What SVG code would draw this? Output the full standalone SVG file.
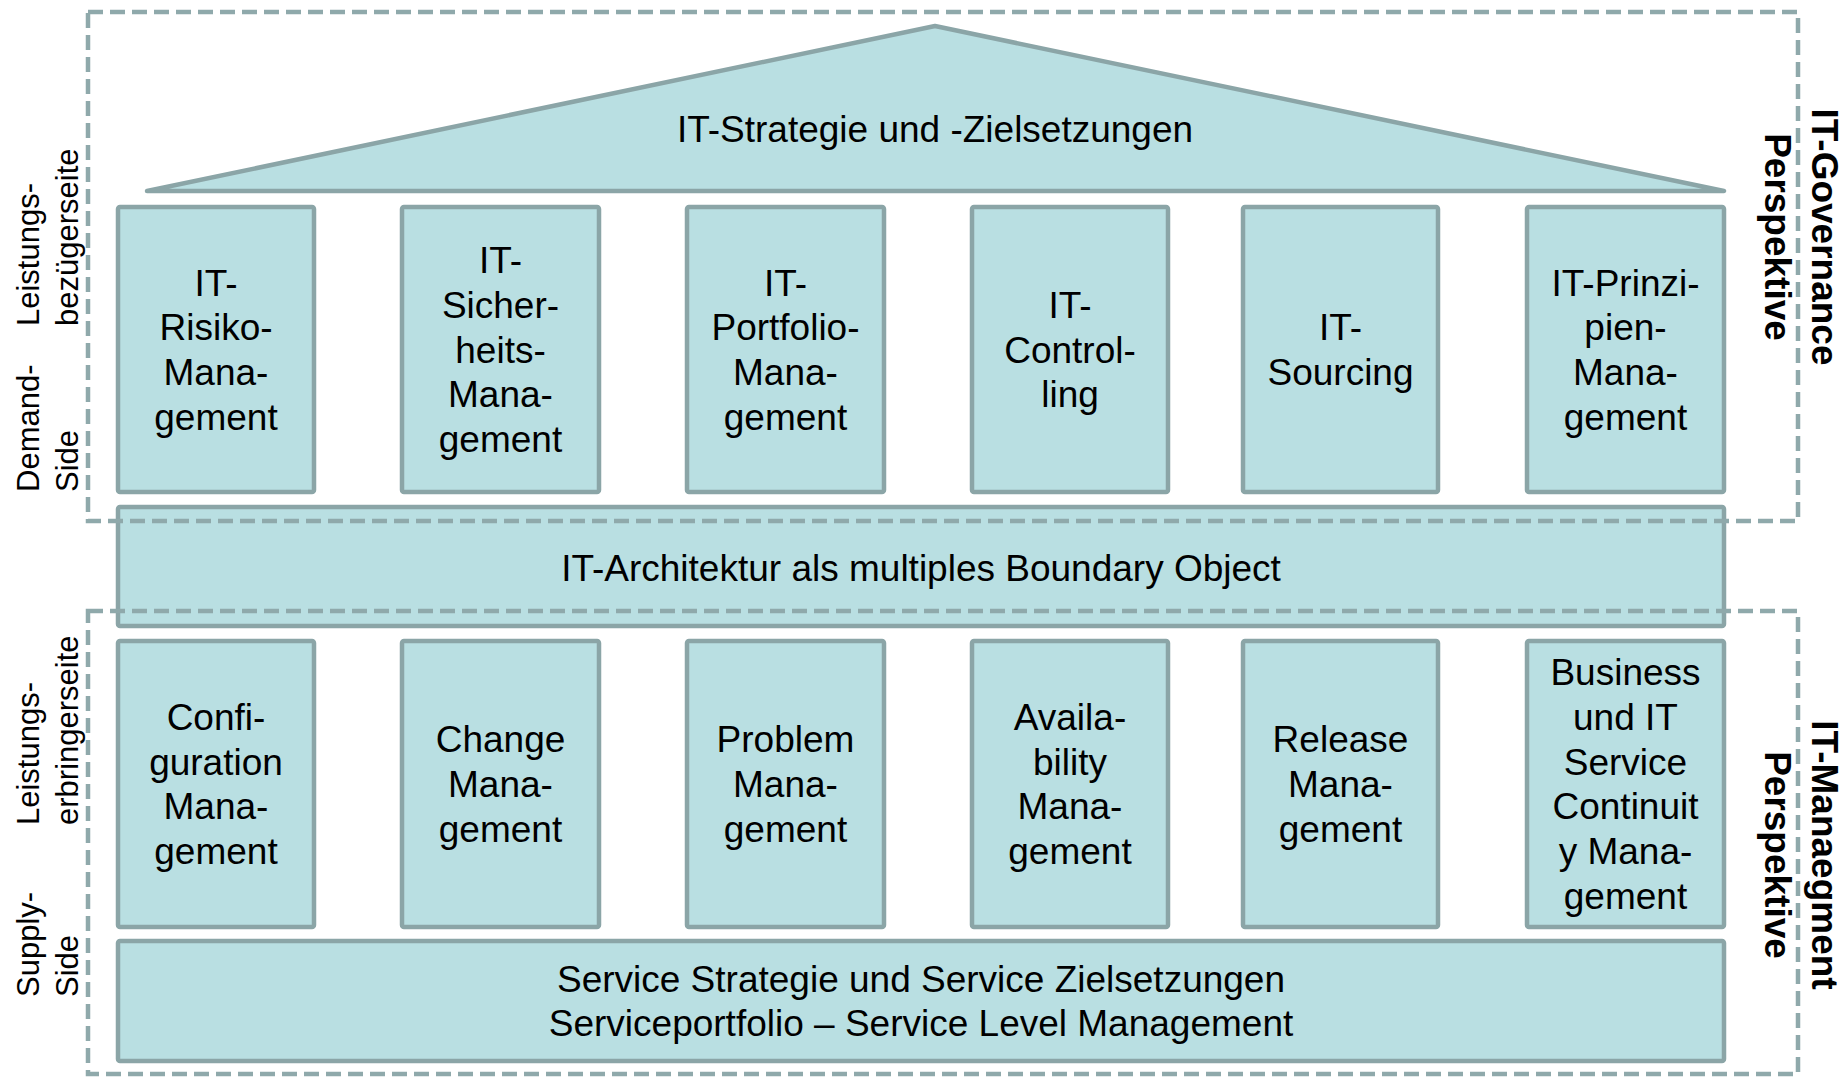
<svg xmlns="http://www.w3.org/2000/svg" width="1845" height="1077" viewBox="0 0 1845 1077">
<style>
.box{fill:#b9dfe2;stroke:#8ba5a7;stroke-width:4.5;stroke-linejoin:round}
.dash{fill:none;stroke:#8fa9ab;stroke-width:4.5;stroke-dasharray:15 7}
.t{font-family:"Liberation Sans",Arial,sans-serif;font-size:37px;fill:#000;text-anchor:middle}
.s{font-family:"Liberation Sans",Arial,sans-serif;font-size:31px;fill:#000;text-anchor:start}
.b{font-family:"Liberation Sans",Arial,sans-serif;font-size:37px;font-weight:bold;fill:#000;text-anchor:middle}
</style>
<rect width="1845" height="1077" fill="#fff"/>
<g id="roof">
<polygon class="box" points="147,191 935,26 1724,191"/>
<text class="t" x="935" y="142">IT-Strategie und -Zielsetzungen</text>
</g>
<g id="p-risiko">
<rect class="box" x="118" y="207" width="196" height="285" rx="2"/>
<text class="t"><tspan x="216" y="295.5">IT-</tspan><tspan x="216" y="340.2">Risiko-</tspan><tspan x="216" y="384.9">Mana-</tspan><tspan x="216" y="429.6">gement</tspan></text>
</g>
<g id="p-sicherheit">
<rect class="box" x="402" y="207" width="197" height="285" rx="2"/>
<text class="t"><tspan x="500.5" y="273.1">IT-</tspan><tspan x="500.5" y="317.8">Sicher-</tspan><tspan x="500.5" y="362.5">heits-</tspan><tspan x="500.5" y="407.2">Mana-</tspan><tspan x="500.5" y="451.9">gement</tspan></text>
</g>
<g id="p-portfolio">
<rect class="box" x="687" y="207" width="197" height="285" rx="2"/>
<text class="t"><tspan x="785.5" y="295.5">IT-</tspan><tspan x="785.5" y="340.2">Portfolio-</tspan><tspan x="785.5" y="384.9">Mana-</tspan><tspan x="785.5" y="429.6">gement</tspan></text>
</g>
<g id="p-controlling">
<rect class="box" x="972" y="207" width="196" height="285" rx="2"/>
<text class="t"><tspan x="1070" y="317.8">IT-</tspan><tspan x="1070" y="362.5">Control-</tspan><tspan x="1070" y="407.2">ling</tspan></text>
</g>
<g id="p-sourcing">
<rect class="box" x="1243" y="207" width="195" height="285" rx="2"/>
<text class="t"><tspan x="1340.5" y="340.2">IT-</tspan><tspan x="1340.5" y="384.9">Sourcing</tspan></text>
</g>
<g id="p-prinzipien">
<rect class="box" x="1527" y="207" width="197" height="285" rx="2"/>
<text class="t"><tspan x="1625.5" y="295.5">IT-Prinzi-</tspan><tspan x="1625.5" y="340.2">pien-</tspan><tspan x="1625.5" y="384.9">Mana-</tspan><tspan x="1625.5" y="429.6">gement</tspan></text>
</g>
<g id="architektur">
<rect class="box" x="118" y="507" width="1606" height="119" rx="2"/>
<text class="t" x="921" y="581">IT-Architektur als multiples Boundary Object</text>
</g>
<g id="p-configuration">
<rect class="box" x="118" y="641" width="196" height="286" rx="2"/>
<text class="t"><tspan x="216" y="730">Confi-</tspan><tspan x="216" y="774.7">guration</tspan><tspan x="216" y="819.4">Mana-</tspan><tspan x="216" y="864.1">gement</tspan></text>
</g>
<g id="p-change">
<rect class="box" x="402" y="641" width="197" height="286" rx="2"/>
<text class="t"><tspan x="500.5" y="752.4">Change</tspan><tspan x="500.5" y="797">Mana-</tspan><tspan x="500.5" y="841.7">gement</tspan></text>
</g>
<g id="p-problem">
<rect class="box" x="687" y="641" width="197" height="286" rx="2"/>
<text class="t"><tspan x="785.5" y="752.4">Problem</tspan><tspan x="785.5" y="797">Mana-</tspan><tspan x="785.5" y="841.7">gement</tspan></text>
</g>
<g id="p-availability">
<rect class="box" x="972" y="641" width="196" height="286" rx="2"/>
<text class="t"><tspan x="1070" y="730">Availa-</tspan><tspan x="1070" y="774.7">bility</tspan><tspan x="1070" y="819.4">Mana-</tspan><tspan x="1070" y="864.1">gement</tspan></text>
</g>
<g id="p-release">
<rect class="box" x="1243" y="641" width="195" height="286" rx="2"/>
<text class="t"><tspan x="1340.5" y="752.4">Release</tspan><tspan x="1340.5" y="797">Mana-</tspan><tspan x="1340.5" y="841.7">gement</tspan></text>
</g>
<g id="p-continuity">
<rect class="box" x="1527" y="641" width="197" height="286" rx="2"/>
<text class="t"><tspan x="1625.5" y="685.2">Business</tspan><tspan x="1625.5" y="729.9">und IT</tspan><tspan x="1625.5" y="774.6">Service</tspan><tspan x="1625.5" y="819.4">Continuit</tspan><tspan x="1625.5" y="864.1">y Mana-</tspan><tspan x="1625.5" y="908.8">gement</tspan></text>
</g>
<g id="service">
<rect class="box" x="118" y="941" width="1606" height="120" rx="2"/>
<text class="t"><tspan x="921" y="992">Service Strategie und Service Zielsetzungen</tspan><tspan x="921" y="1036">Serviceportfolio – Service Level Management</tspan></text>
</g>
<g id="label-demand">
<text class="s" transform="translate(39,326) rotate(-90)">Leistungs-</text>
<text class="s" transform="translate(78,326) rotate(-90)">bezügerseite</text>
<text class="s" transform="translate(39,492) rotate(-90)">Demand-</text>
<text class="s" transform="translate(78,492) rotate(-90)">Side</text>
</g>
<g id="label-supply">
<text class="s" transform="translate(39,825) rotate(-90)">Leistungs-</text>
<text class="s" transform="translate(78,825) rotate(-90)">erbringerseite</text>
<text class="s" transform="translate(39,997) rotate(-90)">Supply-</text>
<text class="s" transform="translate(78,997) rotate(-90)">Side</text>
</g>
<g id="label-governance">
<text class="b" transform="translate(1812,237) rotate(90)">IT-Governance</text>
<text class="b" transform="translate(1765,237) rotate(90)">Perspektive</text>
</g>
<g id="label-management">
<text class="b" transform="translate(1812,855) rotate(90)">IT-Manaegment</text>
<text class="b" transform="translate(1765,855) rotate(90)">Perspektive</text>
</g>
<g id="governance-frame">
<rect class="dash" x="88" y="12" width="1710" height="509"/>
</g>
<g id="management-frame">
<rect class="dash" x="88" y="611" width="1710" height="463"/>
</g>
<g id="connectors"></g>
</svg>
